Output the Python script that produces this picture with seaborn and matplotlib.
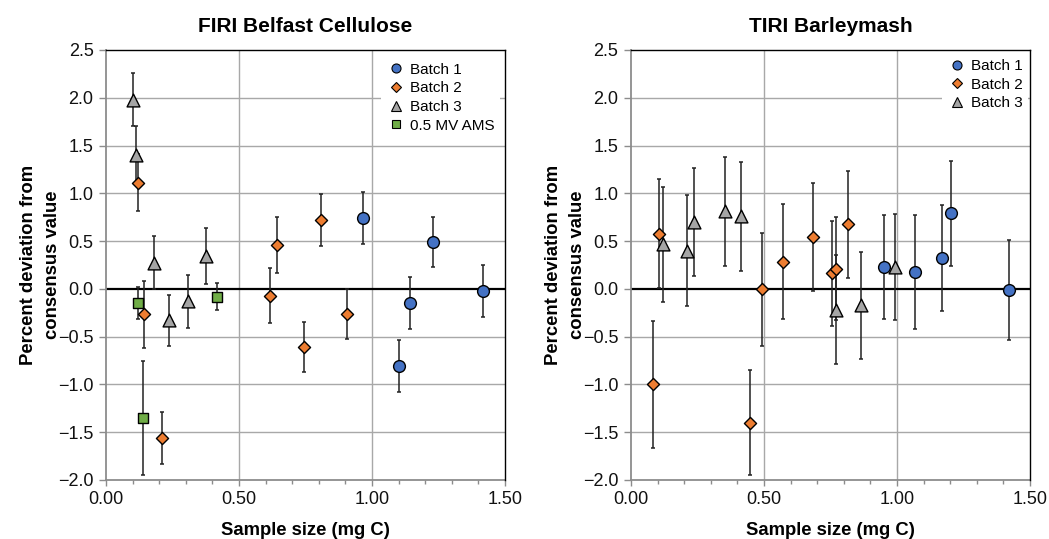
import numpy as np
import pandas as pd
import matplotlib
matplotlib.use("Agg")
import matplotlib.pyplot as plt
from matplotlib.ticker import MultipleLocator, FuncFormatter
from matplotlib.lines import Line2D
import seaborn as sns

# ---------------- data ----------------
# FIRI Belfast Cellulose
firi_b1_x = [0.967, 1.100, 1.142, 1.229, 1.417]
firi_b1_y = [0.74, -0.81, -0.15, 0.49, -0.02]
firi_b1_e = [0.27, 0.27, 0.27, 0.26, 0.27]

firi_b2_x = [0.119, 0.143, 0.209, 0.617, 0.644, 0.743, 0.807, 0.906]
firi_b2_y = [1.11, -0.265, -1.56, -0.07, 0.46, -0.61, 0.72, -0.26]
firi_b2_e = [0.30, 0.35, 0.27, 0.285, 0.29, 0.26, 0.275, 0.26]

firi_b3_x = [0.103, 0.113, 0.179, 0.237, 0.307, 0.375]
firi_b3_y = [1.98, 1.40, 0.275, -0.33, -0.13, 0.345]
firi_b3_e = [0.28, 0.30, 0.28, 0.27, 0.28, 0.29]

firi_ams_x = [0.121, 0.140, 0.416]
firi_ams_y = [-0.15, -1.35, -0.08]
firi_ams_e = [0.17, 0.60, 0.145]

# TIRI Barleymash
tiri_b1_x = [0.952, 1.068, 1.170, 1.203, 1.421]
tiri_b1_y = [0.23, 0.178, 0.32, 0.79, -0.01]
tiri_b1_e = [0.545, 0.60, 0.555, 0.55, 0.525]

tiri_b2_x = [0.084, 0.105, 0.446, 0.491, 0.573, 0.685, 0.755, 0.771, 0.816]
tiri_b2_y = [-1.00, 0.575, -1.40, -0.005, 0.285, 0.547, 0.164, 0.21, 0.677]
tiri_b2_e = [0.66, 0.57, 0.55, 0.59, 0.60, 0.565, 0.55, 0.54, 0.56]

tiri_b3_x = [0.121, 0.209, 0.237, 0.353, 0.412, 0.771, 0.865, 0.991]
tiri_b3_y = [0.468, 0.40, 0.70, 0.81, 0.76, -0.22, -0.17, 0.233]
tiri_b3_e = [0.60, 0.58, 0.56, 0.57, 0.57, 0.57, 0.56, 0.555]

series_labels = ["Batch 1", "Batch 2", "Batch 3", "0.5 MV AMS"]
titles = ["FIRI Belfast Cellulose", "TIRI Barleymash"]
x_label = "Sample size (mg C)"
y_label = "Percent deviation from\nconsensus value"

# ---------------- styling ----------------
colors = {"Batch 1": "#4472C4", "Batch 2": "#ED7D31",
          "Batch 3": "#A5A5A5", "0.5 MV AMS": "#70AD47"}
markers = {"Batch 1": "o", "Batch 2": "D", "Batch 3": "^", "0.5 MV AMS": "s"}
sizes = {"Batch 1": 72, "Batch 2": 38, "Batch 3": 85, "0.5 MV AMS": 60}
leg_sizes = {"Batch 1": 6.5, "Batch 2": 4.8, "Batch 3": 6.5, "0.5 MV AMS": 6.0}


def build(groups):
    rows = []
    for lab, xs, ys, es in groups:
        for x, y, e in zip(xs, ys, es):
            rows.append({"x": x, "y": y, "err": e, "series": lab})
    return pd.DataFrame(rows)


df_firi = build([
    ("Batch 1", firi_b1_x, firi_b1_y, firi_b1_e),
    ("Batch 2", firi_b2_x, firi_b2_y, firi_b2_e),
    ("Batch 3", firi_b3_x, firi_b3_y, firi_b3_e),
    ("0.5 MV AMS", firi_ams_x, firi_ams_y, firi_ams_e),
])
df_tiri = build([
    ("Batch 1", tiri_b1_x, tiri_b1_y, tiri_b1_e),
    ("Batch 2", tiri_b2_x, tiri_b2_y, tiri_b2_e),
    ("Batch 3", tiri_b3_x, tiri_b3_y, tiri_b3_e),
])

sns.set_theme(style="white")
plt.rcParams["font.family"] = ["Liberation Sans", "DejaVu Sans"]
plt.rcParams["text.color"] = "black"
plt.rcParams["axes.labelcolor"] = "black"

fig = plt.figure(figsize=(10.49, 5.39), dpi=100)
ax1 = fig.add_axes([106 / 1049, 59 / 539, 399 / 1049, 430 / 539])
ax2 = fig.add_axes([631 / 1049, 59 / 539, 399 / 1049, 430 / 539])

grid_c = "#A8A8A8"
xfmt = FuncFormatter(lambda v, p: f"{v:.2f}")
yfmt = FuncFormatter(lambda v, p: f"{v:.1f}".replace("-", "\u2212"))

for ax, df, title, leg_anchor, bap in [(ax1, df_firi, titles[0], (1.0, 0.995), 0.3),
                                       (ax2, df_tiri, titles[1], (1.0, 0.997), 0.1)]:
    ax.set_xlim(0, 1.5)
    ax.set_ylim(-2.0, 2.5)
    # grid
    for gy in [-1.5, -1.0, -0.5, 0.5, 1.0, 1.5, 2.0]:
        ax.axhline(gy, color=grid_c, lw=1.0, zorder=0)
    for gx in [0.5, 1.0]:
        ax.axvline(gx, color=grid_c, lw=1.0, zorder=0)
    ax.axhline(0, color="black", lw=1.6, zorder=1)

    # error bars
    ax.errorbar(df["x"], df["y"], yerr=df["err"], fmt="none",
                ecolor="#222222", elinewidth=1.1, capsize=1.6,
                capthick=1.1, zorder=2)

    order = [s for s in series_labels if s in set(df["series"])]
    for s in order:
        sub = df[df["series"] == s]
        sns.scatterplot(data=sub, x="x", y="y", ax=ax, color=colors[s],
                        marker=markers[s], s=sizes[s], edgecolor="black",
                        linewidth=1.0, zorder=3, legend=False)

    # legend
    handles = [Line2D([0], [0], marker=markers[s], color="none",
                      markerfacecolor=colors[s], markeredgecolor="black",
                      markeredgewidth=0.8, markersize=leg_sizes[s],
                      label=s) for s in order]
    leg = ax.legend(handles=handles, loc="upper right",
                    bbox_to_anchor=leg_anchor, frameon=True,
                    fontsize=11, handletextpad=0.3, labelspacing=0.3,
                    borderaxespad=bap, borderpad=0.4, handlelength=1.2,
                    fancybox=False)
    leg.get_frame().set_facecolor("white")
    leg.get_frame().set_edgecolor("none")
    leg.get_frame().set_alpha(1.0)
    leg.set_zorder(1.5)

    # spines
    for side in ["top", "right"]:
        ax.spines[side].set_color("black")
        ax.spines[side].set_linewidth(1.0)
        ax.spines[side].set_visible(True)
        ax.spines[side].set_zorder(6)
    for side in ["left", "bottom"]:
        ax.spines[side].set_color("#8C8C8C")
        ax.spines[side].set_linewidth(1.3)
        ax.spines[side].set_visible(True)

    ax.xaxis.set_major_locator(MultipleLocator(0.5))
    ax.xaxis.set_minor_locator(MultipleLocator(0.1))
    ax.yaxis.set_major_locator(MultipleLocator(0.5))
    ax.xaxis.set_major_formatter(xfmt)
    ax.yaxis.set_major_formatter(yfmt)
    ax.tick_params(axis="both", which="both", direction="out",
                   color="#8C8C8C", labelsize=13, labelcolor="#111111")
    ax.tick_params(axis="x", which="major", length=4, width=1, pad=4,
                   bottom=True)
    ax.tick_params(axis="x", which="minor", length=3, width=1, bottom=True)
    ax.tick_params(axis="y", which="major", length=5, width=1, pad=4,
                   left=True)

    ax.set_title(title, fontsize=15, fontweight="bold", pad=13,
                 color="black")
    ax.set_xlabel(x_label, fontsize=13.3, fontweight="bold", labelpad=10)
    ax.set_ylabel(y_label, fontsize=13.3, fontweight="bold", labelpad=-2,
                  linespacing=1.5)
    ax.set_facecolor("white")

fig.savefig("out.png", dpi=100, facecolor="white")
